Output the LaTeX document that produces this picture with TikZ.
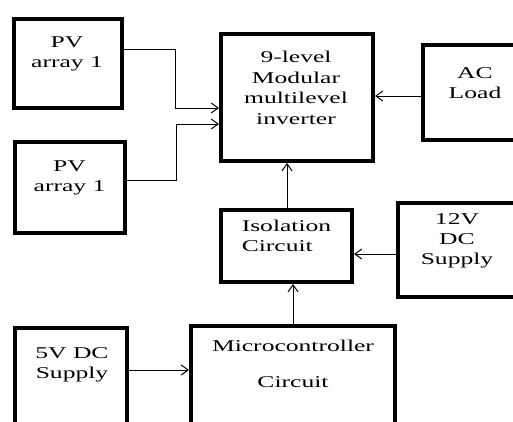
\documentclass[tikz,border=0pt]{standalone}
\usepackage{fontspec}
\setmainfont{Liberation Serif}[FakeStretch=1.55]
\usetikzlibrary{arrows.meta}
\begin{document}
\begin{tikzpicture}[x=1pt,y=-1pt,
  box/.style={draw=black,line width=4pt,rectangle,inner sep=0pt},
  txt/.style={font=\fontsize{16.5}{20}\selectfont,align=center,inner sep=0pt,text=black},
  conn/.style={draw=black,line width=1pt,-{Straight Barb[length=7pt,width=10pt,line width=1pt]}},
  line/.style={draw=black,line width=1pt}]
\clip (0,0) rectangle (513,421);
\fill[white] (0,0) rectangle (513,421);
% boxes
\node[box,minimum width=108pt,minimum height=89pt] (pv1) at (68,63.5) {};
\node[box,minimum width=110pt,minimum height=91pt] (pv2) at (70,187.5) {};
\node[box,minimum width=152pt,minimum height=127pt] (inv) at (297,97.5) {};
\node[box,minimum width=110pt,minimum height=95pt] (ac) at (478,92.5) {};
\node[box,minimum width=131pt,minimum height=72pt] (iso) at (286.5,246) {};
\node[box,minimum width=132pt,minimum height=94pt] (v12) at (464,250) {};
\node[box,minimum width=112pt,minimum height=112pt] (v5) at (71,384) {};
\node[box,minimum width=204pt,minimum height=114pt] (mc) at (293,383) {};
% texts
\node[txt] (pv1t) at (67,53.5) {PV\\array 1};
\node[txt] (pv2t) at (69.5,178) {PV\\array 1};
\node[txt,font=\fontsize{16.5}{20.7}\selectfont] (invt) at (296,88) {9-level\\Modular\\multilevel\\inverter};
\node[txt] (act) at (475,83) {AC\\Load};
\node[txt,align=left] (isot) at (286.5,236) {Isolation\\Circuit};
\node[txt] (v12t) at (457,241) {12V\\DC\\Supply};
\node[txt] (v5t) at (72,365) {5V DC\\Supply};
\node[txt] (mct) at (293,364) {Microcontroller\\[16pt]Circuit};
% junction coordinates
\coordinate (j1) at (175,49);
\coordinate (j2) at (175,108);
\coordinate (k1) at (176,180);
\coordinate (k2) at (176,124);
\coordinate (a1) at (400,96);
\coordinate (c1) at (380,254);
\coordinate (d1) at (293,300);
\coordinate (e1) at (160,370);
\coordinate (b1) at (287,190);
% connectors
\draw[conn] (pv1.east |- j1) -- (j1) -- (j2) -- (inv.west |- j2);
\draw[conn] (pv2.east |- k1) -- (k1) -- (k2) -- (inv.west |- k2);
\draw[conn] (ac.west |- a1) -- (inv.east |- a1);
\draw[conn] (iso.north -| b1) -- (inv.south -| b1);
\draw[conn] (v12.west |- c1) -- (iso.east |- c1);
\draw[conn] (mc.north -| d1) -- (iso.south -| d1);
\draw[conn] (v5.east |- e1) -- (mc.west |- e1);
\end{tikzpicture}
\end{document}
